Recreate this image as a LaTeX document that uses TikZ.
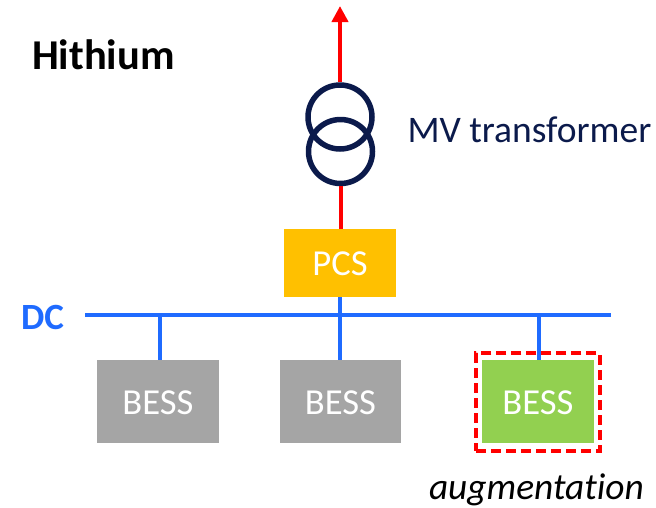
\documentclass[tikz,border=0pt]{standalone}
\usepackage{fontspec}
\setmainfont[Ligatures=NoCommon]{Carlito}
\usetikzlibrary{arrows.meta}
\definecolor{navy}{HTML}{0B1A4B}
\definecolor{busblue}{HTML}{1F6BFF}
\definecolor{pcsgold}{HTML}{FFC000}
\definecolor{bessgrey}{HTML}{A5A5A5}
\definecolor{bessgreen}{HTML}{92D050}
\definecolor{redline}{HTML}{FF0000}
\tikzset{
  box/.style={inner sep=0pt,outer sep=0pt,text=white,font=\fontsize{36.6}{36.6}\selectfont,anchor=center,text height=25.6pt,text depth=0pt},
  bus/.style={draw=busblue,line width=4pt},
  feed/.style={draw=redline,line width=4pt},
  coil/.style={circle,draw=navy,line width=5.5pt,minimum size=64pt,inner sep=0pt,outer sep=2.75pt},
  label/.style={inner sep=0pt,outer sep=0pt,anchor=base west}
}
\begin{document}
\begin{tikzpicture}[x=1pt,y=-1pt]
\useasboundingbox (0,0) rectangle (656,507);
% power path
\node[coil] (t1) at (340,117) {};
\node[coil] (t2) at (340.5,151.5) {};
\coordinate (tip) at (340,6);
\node[box,fill=pcsgold,minimum width=112pt,minimum height=68pt] (pcs) at (340,263) {PCS};
\draw[feed,-{Triangle[length=16pt,width=16pt]}] (t1.north) -- (tip);
\draw[feed] (pcs.north -| t2.south) -- (t2.south);
\node[box,fill=bessgrey,minimum width=122pt,minimum height=83pt] (b1) at (158,401.5) {BESS};
\node[box,fill=bessgrey,minimum width=121pt,minimum height=83pt] (b2) at (340.5,401.5) {BESS};
\node[box,fill=bessgreen,minimum width=112pt,minimum height=83pt] (b3) at (538,401.5) {BESS};
\node[draw=redline,dash pattern=on 10pt off 5pt,line width=4pt,minimum width=123.5pt,minimum height=98pt,inner sep=0pt,outer sep=0pt] (aug) at (538.2,402) {};
% DC bus
\coordinate (busL) at (85,315);
\coordinate (busR) at (611,315);
\draw[bus] (busL) -- (busR);
\coordinate (j1) at (160,315);
\coordinate (j3) at (539,315);
\draw[bus] (j1) -- (b1.north -| j1);
\draw[bus] (pcs.south) -- (b2.north -| pcs.south);
\draw[bus] (j3) -- (b3.north -| j3);
% labels
\node[label,font=\bfseries\fontsize{42.5}{42.5}\selectfont,text=black] (hi) at (32,69.5) {Hithium};
\node[label,font=\fontsize{37.5}{37.5}\selectfont,text=navy] (mv) at (407.5,142) {MV transformer};
\node[label,font=\bfseries\fontsize{37}{37}\selectfont,text=busblue] (dc) at (21,329) {DC};
\node[label,font=\itshape\fontsize{37.4}{37.4}\selectfont,text=black] (au) at (429,499) {augmentation};
\end{tikzpicture}
\end{document}
